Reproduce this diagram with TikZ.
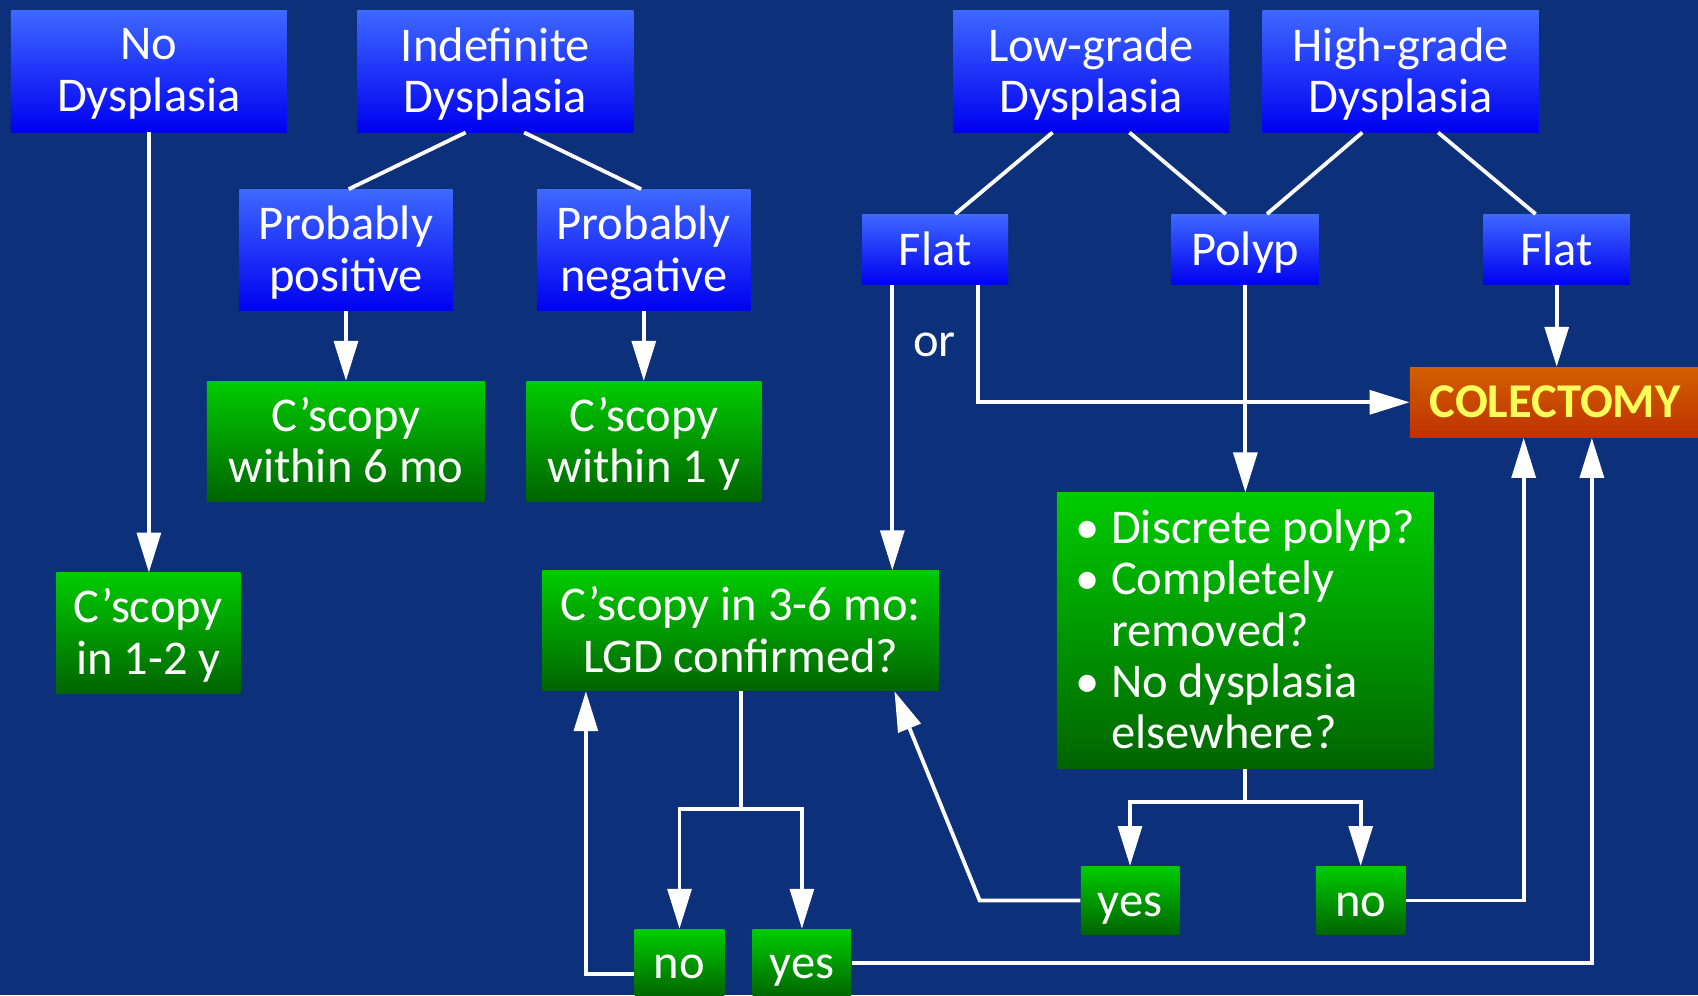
\documentclass[tikz,border=0pt]{standalone}
\usepackage{fontspec}
\setmainfont{Carlito}
\usetikzlibrary{arrows.meta}

\definecolor{bgblue}{RGB}{12,48,122}
\definecolor{boxbluetop}{RGB}{62,104,255}
\definecolor{boxbluebot}{RGB}{0,0,240}
\definecolor{boxgreentop}{RGB}{0,204,0}
\definecolor{boxgreenbot}{RGB}{0,100,0}
\definecolor{colecttop}{RGB}{210,95,0}
\definecolor{colectbot}{RGB}{190,50,0}
\definecolor{colecttext}{RGB}{255,255,90}

\begin{document}
\begin{tikzpicture}[
x=0.02cm, y=-0.02cm,
every node/.style={font=\fontsize{25.5}{27}\selectfont, text=white, align=center, inner sep=0pt, text depth=1.5pt},
bluebox/.style={rectangle, top color=boxbluetop, bottom color=boxbluebot},
greenbox/.style={rectangle, top color=boxgreentop, bottom color=boxgreenbot},
oneline/.style={text height=16.4pt, text depth=0pt},
wire/.style={draw=white, line width=2pt},
wirearrow/.style={wire, -{Triangle[length=21pt, width=12.5pt]}}
]

\useasboundingbox (0,0) rectangle (1568,919);
\fill[bgblue] (0,0) rectangle (1568,919);

\node[bluebox, minimum width=5.1cm, minimum height=2.24cm] at (137.5, 66) (nodys) {No\\Dysplasia};
\node[bluebox, minimum width=5.1cm, minimum height=2.24cm] at (457.5, 66) (indef) {Indefinite\\Dysplasia};
\node[bluebox, minimum width=5.1cm, minimum height=2.24cm] at (1007.5, 66) (lowgrade) {Low-grade\\Dysplasia};
\node[bluebox, minimum width=5.1cm, minimum height=2.24cm] at (1293.5, 66) (highgrade) {High-grade\\Dysplasia};

\node[bluebox, minimum width=3.94cm, minimum height=2.24cm] at (319.5, 231) (probpos) {Probably\\positive};
\node[bluebox, minimum width=3.94cm, minimum height=2.24cm] at (594.5, 231) (probneg) {Probably\\negative};
\node[bluebox, oneline, minimum width=2.7cm, minimum height=1.3cm] at (863.5, 230.5) (flatlow) {Flat};
\node[bluebox, oneline, minimum width=2.72cm, minimum height=1.3cm] at (1150, 230.5) (polyp) {Polyp};
\node[bluebox, oneline, minimum width=2.7cm, minimum height=1.3cm] at (1437.5, 230.5) (flathigh) {Flat};

\node[greenbox, minimum width=5.14cm, minimum height=2.22cm] at (319.5, 407.5) (cscopysix) {C'scopy\\within 6 mo};
\node[greenbox, minimum width=4.34cm, minimum height=2.22cm] at (594.5, 407.5) (cscopyone) {C'scopy\\within 1 y};
\node[rectangle, oneline, top color=colecttop, bottom color=colectbot, text=colecttext, font=\fontsize{25.5}{27}\selectfont\bfseries, minimum width=5.36cm, minimum height=1.3cm] at (1436, 371.5) (colectomy) {COLECTOMY};
\node at (863, 320) (ortext) {or};

\node[greenbox, minimum width=3.4cm, minimum height=2.22cm] at (137, 584.5) (cscopytwo) {C'scopy\\in 1-2 y};
\node[greenbox, minimum width=7.32cm, minimum height=2.22cm] at (684, 582.5) (cscopythree) {C'scopy in 3-6 mo:\\LGD confirmed?};
\node[greenbox, align=left, minimum width=6.96cm, minimum height=5.1cm] at (1150, 582.5) (polypcheck) {\textbullet\ Discrete polyp?\\\textbullet\ Completely\\\phantom{\textbullet\ }removed?\\\textbullet\ No dysplasia\\\phantom{\textbullet\ }elsewhere?};

\node[greenbox, oneline, minimum width=1.82cm, minimum height=1.26cm] at (1043.5, 831.5) (yespolyp) {yes};
\node[greenbox, oneline, minimum width=1.66cm, minimum height=1.26cm] at (1256.5, 831.5) (nopolyp) {no};
\node[greenbox, oneline, minimum width=1.66cm, minimum height=1.26cm] at (627.5, 889.5) (nolgd) {no};
\node[greenbox, oneline, minimum width=1.82cm, minimum height=1.26cm] at (740.5, 889.5) (yeslgd) {yes};

\draw[wirearrow] (nodys.south) -- (nodys.south |- cscopytwo.north);
\draw[wire] ([xshift=-0.55cm]indef.south) -- ([xshift=0.05cm]probpos.north);
\draw[wire] ([xshift=0.53cm]indef.south) -- ([xshift=-0.05cm]probneg.north);
\draw[wirearrow] (probpos) -- (cscopysix);
\draw[wirearrow] (probneg) -- (cscopyone);

\draw[wire] ([xshift=-0.71cm]lowgrade.south) -- ([xshift=0.37cm]flatlow.north);
\draw[wire] ([xshift=0.71cm]lowgrade.south) -- ([xshift=-0.36cm]polyp.north);
\draw[wire] ([xshift=-0.71cm]highgrade.south) -- ([xshift=0.4cm]polyp.north);
\draw[wire] ([xshift=0.69cm]highgrade.south) -- ([xshift=-0.39cm]flathigh.north);

\draw[wirearrow] ([xshift=-0.79cm]flatlow.south) -- ([xshift=-0.79cm]flatlow.south |- cscopythree.north);
\draw[wirearrow] ([xshift=0.79cm]flatlow.south) |- (colectomy.west);
\draw[wirearrow] (polyp) -- (polypcheck);
\draw[wirearrow] (flathigh.south) -- (flathigh.south |- colectomy.north);

\coordinate (polypfork) at ([yshift=-0.6cm]polypcheck.south);
\draw[wire] (polypcheck.south) -- (polypfork);
\draw[wirearrow] (polypfork) -| (yespolyp.north);
\draw[wirearrow] (polypfork) -| (nopolyp.north);
\draw[wirearrow] (yespolyp.west) -- ++(-1.86cm,0) -- ([xshift=2.84cm]cscopythree.south);
\draw[wirearrow] (nopolyp.east) -| ([xshift=-0.58cm]colectomy.south);

\coordinate (lgdfork) at ([yshift=-2.18cm]cscopythree.south);
\draw[wire] (cscopythree.south) -- (lgdfork);
\draw[wirearrow] (lgdfork) -| (nolgd.north);
\draw[wirearrow] (lgdfork) -| (yeslgd.north);
\draw[wirearrow] ([yshift=-0.2cm]nolgd.west) -| ([xshift=-2.86cm]cscopythree.south);
\draw[wirearrow] (yeslgd.east) -| ([xshift=0.68cm]colectomy.south);
\end{tikzpicture}
\end{document}
